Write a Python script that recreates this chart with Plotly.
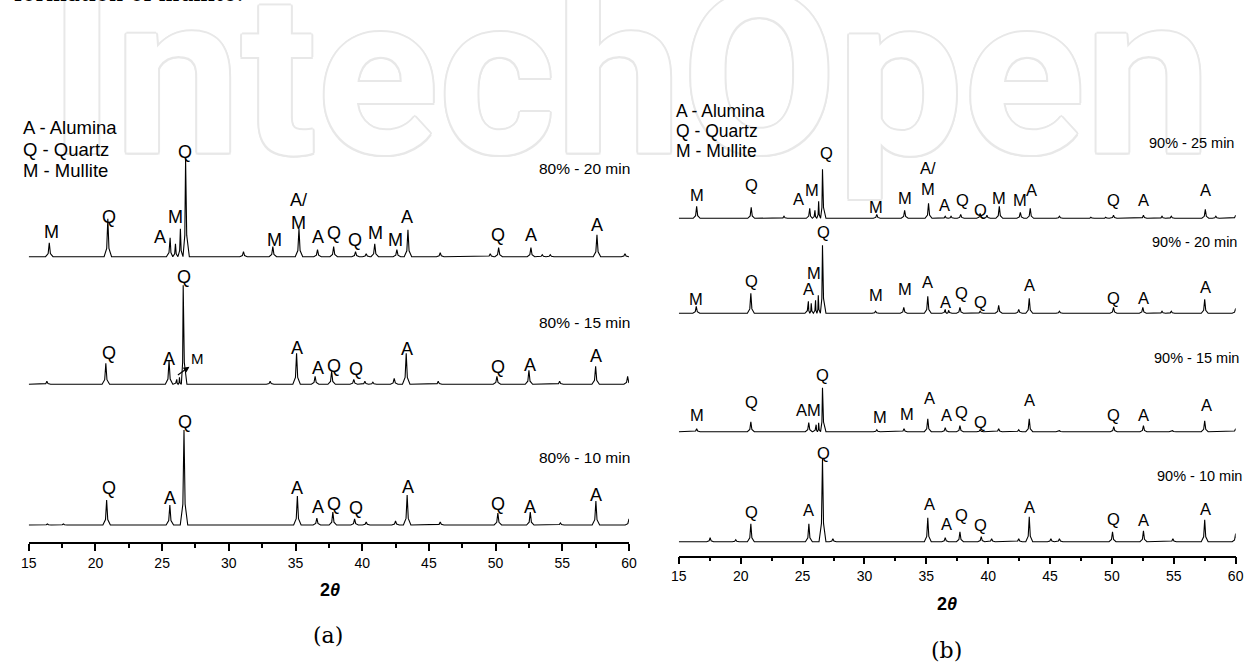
import plotly.graph_objects as go

W, H = 1254, 664

# ---------------- DATA ----------------
# Panel (a): 80 % samples -- peak 2-theta positions and intensities (arb. units)
a20_pos = [16.54, 20.93, 25.6, 26.0, 26.37, 26.76, 31.1, 33.3, 35.26, 36.65, 37.86, 39.5, 40.3, 40.94,
           42.6, 43.43, 45.85, 49.6, 50.23, 52.65, 53.5, 54.1, 57.6, 59.7]
a20_int = [14, 38, 19, 13, 28, 98, 5, 10, 28, 7, 10, 5, 3, 13, 7, 27, 4, 3, 9, 9, 2, 2, 22, 3]
a15_pos = [16.36, 20.78, 25.52, 26.1, 26.3, 26.58, 33.1, 35.08, 36.47, 37.71, 39.37, 40.2, 40.8, 42.4,
           43.3, 45.7, 50.1, 52.5, 54.8, 57.5, 59.9]
a15_int = [3, 21, 24, 5, 7, 99, 3, 31, 8, 13, 5, 3, 2, 6, 31, 3, 8, 14, 3, 18, 8]
a10_pos = [16.4, 17.6, 20.84, 25.58, 26.64, 35.14, 36.6, 37.8, 39.43, 40.3, 42.5, 43.37, 45.85, 50.17,
           52.6, 54.86, 57.52, 60.0]
a10_int = [1, 1, 25, 20, 95, 29, 7, 13, 6, 3, 4, 30, 3, 12, 13, 2, 24, 6]
a_offsets = [285.3, 157.7, 17.0]
a_names = ["80% - 20 min", "80% - 15 min", "80% - 10 min"]
a_name_level = [88.0, 62.0, 68.0]

a20_lab = ["M", "Q", "A", "M", "Q", "M", "A/<br>M", "A", "Q", "Q", "M", "M", "A", "Q", "A", "A"]
a20_lab_pos = [16.69, 20.99, 24.86, 25.98, 26.74, 33.39, 35.2, 36.65, 37.86, 39.43, 41.0, 42.52, 43.37,
               50.17, 52.65, 57.58]
a20_lab_int = [25.0, 40.0, 19.4, 40.0, 105.0, 16.7, 45.0, 19.4, 23.4, 16.7, 24.0, 16.7, 40.0, 21.7, 21.7, 31.7]
a15_lab = ["Q", "A", "Q", "A", "A", "Q", "Q", "A", "Q", "A", "A"]
a15_lab_pos = [20.99, 25.52, 26.64, 35.08, 36.65, 37.86, 39.5, 43.37, 50.17, 52.6, 57.52]
a15_lab_int = [31.0, 25.0, 107.6, 36.0, 16.6, 18.6, 15.3, 35.3, 17.6, 19.3, 28.3]
a10_lab = ["Q", "A", "Q", "A", "A", "Q", "Q", "A", "Q", "A", "A"]
a10_lab_pos = [20.99, 25.58, 26.73, 35.14, 36.65, 37.86, 39.5, 43.43, 50.17, 52.6, 57.52]
a10_lab_int = [36.7, 26.7, 103.3, 36.7, 17.7, 21.0, 16.7, 38.3, 21.0, 17.7, 30.0]
# arrow-marked mullite shoulder in the 15 min pattern
a15_arrow_from = (26.07, 8.3)
a15_arrow_to = (27.05, 17.6)
a15_arrow_label = ("M", 27.64, 26.0)

# Panel (b): 90 % samples
b25_pos = [16.44, 20.85, 23.5, 25.58, 26.0, 26.3, 26.61, 31.0, 33.25, 35.18, 36.53, 37.0, 37.78, 39.35,
           39.9, 40.9, 42.6, 43.4, 45.76, 48.3, 49.5, 50.13, 52.55, 54.05, 54.8, 57.55, 58.4, 60.0]
b25_int = [12, 11, 2, 10, 8, 17, 49, 4, 8, 15, 2, 2, 4, 5, 3, 12, 6, 10, 2, 1, 1, 3, 3, 2, 2, 9, 2, 3]
b20_pos = [16.41, 20.82, 25.47, 25.7, 26.05, 26.27, 26.61, 30.9, 33.18, 35.12, 36.53, 36.8, 37.72, 39.35,
           40.85, 42.47, 43.32, 45.76, 50.13, 52.5, 54.05, 54.8, 57.5, 60.0]
b20_int = [7, 20, 12, 10, 13, 18, 68, 2, 6, 17, 4, 3, 6, 2, 8, 4, 15, 2, 6, 6, 2, 2, 14, 5]
b15_pos = [16.44, 20.82, 25.5, 26.1, 26.3, 26.61, 31.0, 33.2, 35.12, 36.53, 37.72, 39.35, 40.85, 42.47,
           43.32, 45.76, 50.15, 52.55, 54.9, 57.5, 60.0]
b15_int = [3, 10, 9, 7, 9, 44, 2, 3, 13, 4, 6, 2, 3, 2, 13, 1, 5, 6, 1, 11, 3]
b10_pos = [17.53, 19.6, 20.82, 25.51, 26.61, 27.45, 35.12, 36.53, 37.72, 39.44, 40.28, 42.47, 43.32, 45.07,
           45.76, 50.05, 52.55, 54.93, 57.5, 60.0]
b10_int = [4, 2, 18, 18, 83, 3, 24, 4, 10, 5, 3, 3, 25, 3, 3, 10, 11, 3, 22, 8]
b_offsets = [337.4, 242.4, 124.0, 14.0]
b_names = ["90% - 25 min", "90% - 20 min", "90% - 15 min", "90% - 10 min"]
b_name_level = [75.3, 71.6, 73.7, 65.7]

b25_lab = ["M", "Q", "A", "M", "Q", "M", "M", "A/<br>M", "A", "Q", "Q", "M", "M", "A", "Q", "A", "A"]
b25_lab_pos = [16.44, 20.88, 24.7, 25.8, 26.9, 30.96, 33.24, 35.12, 36.44, 37.94, 39.41, 40.91, 42.57,
               43.48, 50.14, 52.55, 57.56]
b25_lab_int = [23.3, 33.3, 19.3, 28.3, 65.0, 11.6, 20.0, 39.5, 13.3, 18.3, 8.3, 20.0, 18.3, 28.3, 18.3, 18.3, 28.3]
b20_lab = ["M", "Q", "A", "M", "Q", "M", "M", "A", "A", "Q", "Q", "A", "Q", "A", "A"]
b20_lab_pos = [16.41, 20.88, 25.47, 25.89, 26.67, 30.96, 33.24, 35.12, 36.59, 37.88, 39.41, 43.35, 50.14,
               52.55, 57.56]
b20_lab_int = [14.0, 32.6, 24.0, 40.0, 81.6, 18.3, 24.0, 31.6, 11.6, 20.6, 11.6, 28.3, 15.0, 15.0, 26.0]
b15_lab = ["M", "Q", "AM", "Q", "M", "M", "A", "A", "Q", "Q", "A", "Q", "A", "A"]
b15_lab_pos = [16.44, 20.88, 25.5, 26.61, 31.27, 33.4, 35.22, 36.62, 37.85, 39.41, 43.35, 50.14, 52.58, 57.65]
b15_lab_int = [16.7, 30.0, 21.7, 56.7, 15.0, 17.7, 33.4, 16.7, 20.0, 10.0, 31.7, 16.7, 16.7, 26.7]
b10_lab = ["Q", "A", "Q", "A", "A", "Q", "Q", "A", "Q", "A", "A"]
b10_lab_pos = [20.88, 25.51, 26.71, 35.22, 36.62, 37.85, 39.41, 43.35, 50.14, 52.58, 57.56]
b10_lab_int = [30.0, 31.7, 88.4, 37.4, 17.4, 26.7, 16.7, 35.0, 22.4, 21.7, 32.4]

legend_lines = ["A - Alumina", "Q - Quartz", "M - Mullite"]
x_ticks = [15, 20, 25, 30, 35, 40, 45, 50, 55, 60]

# ---------------- HELPERS ----------------
FONT = "Liberation Sans"
SERIF = "DejaVu Serif"


def pattern(pos, inten, offset, w=0.28):
    xs, ys = [15.0], [offset]
    n = len(pos)
    for i, (p, h) in enumerate(zip(pos, inten)):
        lo, hi = p - w, p + w
        if i > 0:
            lo = max(lo, (pos[i - 1] + p) / 2)
        if i < n - 1:
            hi = min(hi, (p + pos[i + 1]) / 2)
        xs += [lo, p - (p - lo) * 0.3, p, p + (hi - p) * 0.3, hi]
        ys += [offset, offset + 0.22 * h, offset + h, offset + 0.22 * h, offset]
    if xs[-1] < 60:
        xs.append(60.0)
        ys.append(offset)
    return xs, ys


fig = go.Figure()

# watermark (drawn first, on its own full-page axes so it lies beneath everything)
fig.add_trace(go.Scatter(
    x=[630], y=[97], mode="text", text=["IntechOpen"], textposition="middle center",
    textfont=dict(family="Roboto", size=225, color="white", weight=700,
                  shadow="2px 0 0 #e8e8e8, -2px 0 0 #e8e8e8, 0 2px 0 #e8e8e8, 0 -2px 0 #e8e8e8, "
                         "1.5px 1.5px 0 #e8e8e8, -1.5px -1.5px 0 #e8e8e8, 1.5px -1.5px 0 #e8e8e8, "
                         "-1.5px 1.5px 0 #e8e8e8"),
    hoverinfo="skip", showlegend=False, xaxis="x", yaxis="y"))

annotations = []

panels = [
    ("x2", "y2", [(a20_pos, a20_int), (a15_pos, a15_int), (a10_pos, a10_int)], a_offsets,
     [(a20_lab, a20_lab_pos, a20_lab_int), (a15_lab, a15_lab_pos, a15_lab_int),
      (a10_lab, a10_lab_pos, a10_lab_int)], a_names, a_name_level, 18, 15.5, [3, 3, 3]),
    ("x3", "y3", [(b25_pos, b25_int), (b20_pos, b20_int), (b15_pos, b15_int), (b10_pos, b10_int)], b_offsets,
     [(b25_lab, b25_lab_pos, b25_lab_int), (b20_lab, b20_lab_pos, b20_lab_int),
      (b15_lab, b15_lab_pos, b15_lab_int), (b10_lab, b10_lab_pos, b10_lab_int)], b_names, b_name_level,
     16.5, 14.5, [0, 3, 5, 8]),
]

for xa, ya, series, offsets, labels, names, name_lv, lsize, nsize, shifts in panels:
    for (pos, inten), off, (lt, lp, li), nm, nl, sh in zip(series, offsets, labels, names, name_lv, shifts):
        xs, ys = pattern(pos, inten, off)
        fig.add_trace(go.Scatter(x=xs, y=ys, mode="lines", line=dict(color="black", width=1.1),
                                 hoverinfo="skip", showlegend=False, xaxis=xa, yaxis=ya))
        for t, p, v in zip(lt, lp, li):
            annotations.append(dict(x=p, y=off + v, xref=xa, yref=ya, text=t, showarrow=False,
                                    xanchor="center", yanchor="middle",
                                    font=dict(family=FONT, size=lsize, color="black")))
        annotations.append(dict(x=60, y=off + nl, xref=xa, yref=ya, text=nm, showarrow=False,
                                xanchor="right", yanchor="middle", xshift=sh,
                                font=dict(family=FONT, size=nsize, color="black")))

# arrow + small M label in the 80% - 15 min pattern
annotations.append(dict(x=a15_arrow_to[0], y=a_offsets[1] + a15_arrow_to[1], xref="x2", yref="y2",
                        ax=a15_arrow_from[0], ay=a_offsets[1] + a15_arrow_from[1], axref="x2", ayref="y2",
                        text="", showarrow=True, arrowhead=2, arrowsize=1, arrowwidth=1.2,
                        arrowcolor="black", standoff=0, startstandoff=0))
annotations.append(dict(x=a15_arrow_label[1], y=a_offsets[1] + a15_arrow_label[2], xref="x2", yref="y2",
                        text=a15_arrow_label[0], showarrow=False, xanchor="center", yanchor="middle",
                        font=dict(family=FONT, size=15, color="black")))

# phase legends
for i, t in enumerate(legend_lines):
    annotations.append(dict(x=13 / W, y=1 - (128 + 21 * i) / H, xref="paper", yref="paper", text=t,
                            showarrow=False, xanchor="left", yanchor="middle",
                            font=dict(family=FONT, size=18.5, color="black")))
    annotations.append(dict(x=675 / W, y=1 - (111 + 20 * i) / H, xref="paper", yref="paper", text=t,
                            showarrow=False, xanchor="left", yanchor="middle",
                            font=dict(family=FONT, size=17.5, color="black")))

# axis titles and panel captions
for cx, cy in [(326, 590), (951, 604)]:
    annotations.append(dict(x=cx / W, y=1 - cy / H, xref="paper", yref="paper",
                            text="<b>2</b><b><i>θ</i></b>", showarrow=False, xanchor="center",
                            yanchor="middle", font=dict(family=FONT, size=18, color="black")))
for t, cx, cy in [("(a)", 324, 635), ("(b)", 951, 650)]:
    annotations.append(dict(x=cx / W, y=1 - cy / H, xref="paper", yref="paper", text=t,
                            showarrow=False, xanchor="center", yanchor="middle",
                            font=dict(family=SERIF, size=22, color="black")))

# cut-off running text at the very top
annotations.append(dict(x=4 / W, y=1 - 8 / H, xref="paper", yref="paper", text="formation of mullite.",
                        showarrow=False, xanchor="left", yanchor="bottom",
                        font=dict(family=SERIF, size=22, color="black")))

xaxis_common = dict(range=[15, 60], showline=True, linecolor="black", linewidth=1.5, ticks="outside",
                    ticklen=7, tickwidth=1.5, tickcolor="black", tickvals=x_ticks,
                    ticktext=[str(v) for v in x_ticks], showgrid=False, zeroline=False,
                    tickfont=dict(family=FONT, size=14, color="black"),
                    minor=dict(dtick=2.5, tick0=15, ticks="outside", ticklen=4, tickwidth=1.5,
                               tickcolor="black", showgrid=False),
                    fixedrange=True)
yaxis_common = dict(visible=False, showgrid=False, zeroline=False, fixedrange=True)

fig.update_layout(
    width=W, height=H, margin=dict(l=0, r=0, t=0, b=0),
    paper_bgcolor="white", plot_bgcolor="rgba(0,0,0,0)", showlegend=False,
    xaxis=dict(domain=[0, 1], range=[0, W], visible=False, fixedrange=True),
    yaxis=dict(domain=[0, 1], range=[H, 0], visible=False, fixedrange=True),
    xaxis2=dict(domain=[21 / W, 629 / W], anchor="y2", **xaxis_common),
    yaxis2=dict(domain=[122 / H, 564 / H], range=[0, 442], anchor="x2", **yaxis_common),
    xaxis3=dict(domain=[679.5 / W, 1243.5 / W], anchor="y3", **xaxis_common),
    yaxis3=dict(domain=[108.3 / H, 564 / H], range=[0, 455.7], anchor="x3", **yaxis_common),
    annotations=annotations,
)

fig.write_html("out.html")
